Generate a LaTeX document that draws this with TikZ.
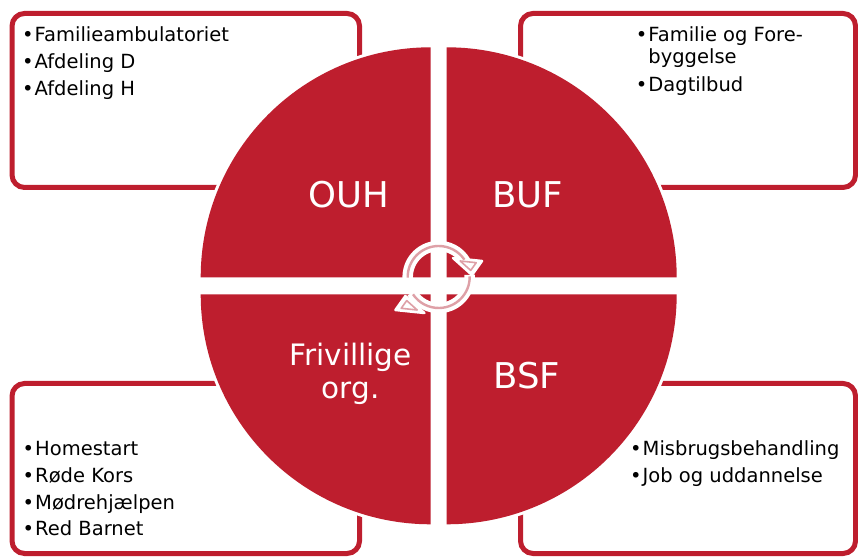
\documentclass[tikz,border=0pt]{standalone}
\usepackage{fontspec}
\setmainfont{DejaVu Sans}
\definecolor{brand}{RGB}{190,30,46}
\definecolor{cyclepink}{RGB}{222,160,167}
\newcommand\itemdot{\makebox[12.5pt][l]{•}}

\begin{document}
\begin{tikzpicture}[x=1pt,y=1pt,
  panel/.style={draw=brand, line width=5pt, rounded corners=12.5pt},
  halo/.style={fill=white},
  quad/.style={fill=brand},
  cycleband/.style={draw=white, line width=10.5pt},
  cyclehead/.style={fill=white, draw=white, line width=2.5pt, line join=round},
  cycleline/.style={draw=cyclepink, line width=2.4pt, line join=round},
  item/.style={anchor=base west, inner sep=0pt, text=black,
               font=\fontsize{19.5}{23}\selectfont},
  title/.style={text=white, inner sep=0pt, align=center,
                font=\fontsize{35.5}{38}\selectfont},
  ]
\useasboundingbox (0,0) rectangle (858,556);

% outlined panels behind the circle
\draw[panel] (12,368.5) rectangle (359.5,542.5);
\draw[panel] (520.5,368.5) rectangle (855.5,542.5);
\draw[panel] (12,2.5) rectangle (359.5,172.5);
\draw[panel] (520.5,2.5) rectangle (855.5,172.5);

% corners of the four quarter discs
\coordinate (qtl) at (430.7,278.7);
\coordinate (qtr) at (446.7,278.7);
\coordinate (qbl) at (430.7,261.7);
\coordinate (qbr) at (446.7,261.7);
\coordinate (mid) at (438.7,270.5);

% white rim so the panels stop short of the circle
\fill[halo] (qtl) -- ++(90:233) arc (90:180:233) -- cycle;
\fill[halo] (qtr) -- ++(0:233) arc (0:90:233) -- cycle;
\fill[halo] (qbl) -- ++(180:233) arc (180:270:233) -- cycle;
\fill[halo] (qbr) -- ++(270:233) arc (270:360:233) -- cycle;

\fill[quad] (qtl) -- ++(90:230) arc (90:180:230) -- cycle;
\fill[quad] (qtr) -- ++(0:230) arc (0:90:230) -- cycle;
\fill[quad] (qbl) -- ++(180:230) arc (180:270:230) -- cycle;
\fill[quad] (qbr) -- ++(270:230) arc (270:360:230) -- cycle;

% circular arrows in the middle: the lower one is the upper one turned half a turn
\coordinate (ac) at (438.7,279);
\foreach \turn in {0,180}{
  \begin{scope}[rotate around={\turn:(mid)}]
    \path[cycleband] ([shift={(184:31)}]ac) arc (184:30:31);
    \path[cyclehead] (453,298) -- (482,295) -- (472,281) -- cycle;
    \path[cycleline] ([shift={(181:31)}]ac) arc (181:34:31);
    \path[cycleline, line width=1.6pt] (460.2,295.0) -- (476.2,293.3) -- (470.7,285.6) -- cycle;
  \end{scope}
}

% quadrant titles
\node[title] (ouh) at (349,361) {OUH};
\node[title] (buf) at (528,361) {BUF};
\node[title] (bsf) at (527,180) {BSF};
\node[title, font=\fontsize{29.5}{33}\selectfont] (friv) at (350.5,182.5) {Frivillige\\org.};

% panel contents
\node[item] (ouh1) at (22,514.5) {\itemdot Familieambulatoriet};
\node[item] (ouh2) at (22,487.5) {\itemdot Afdeling D};
\node[item] (ouh3) at (22,460.5) {\itemdot Afdeling H};

\node[item] (buf1) at (635.7,514.5) {\itemdot Familie og Fore-};
\node[item] (buf1b) at (648.2,492) {byggelse};
\node[item] (buf2) at (635.7,464.5) {\itemdot Dagtilbud};

\node[item] (fri1) at (22.5,100) {\itemdot Homestart};
\node[item] (fri2) at (22.5,73.3) {\itemdot Røde Kors};
\node[item] (fri3) at (22.5,46.7) {\itemdot Mødrehjælpen};
\node[item] (fri4) at (22.5,20) {\itemdot Red Barnet};

\node[item] (bsf1) at (630,100) {\itemdot Misbrugsbehandling};
\node[item] (bsf2) at (630,73.7) {\itemdot Job og uddannelse};
\end{tikzpicture}
\end{document}
